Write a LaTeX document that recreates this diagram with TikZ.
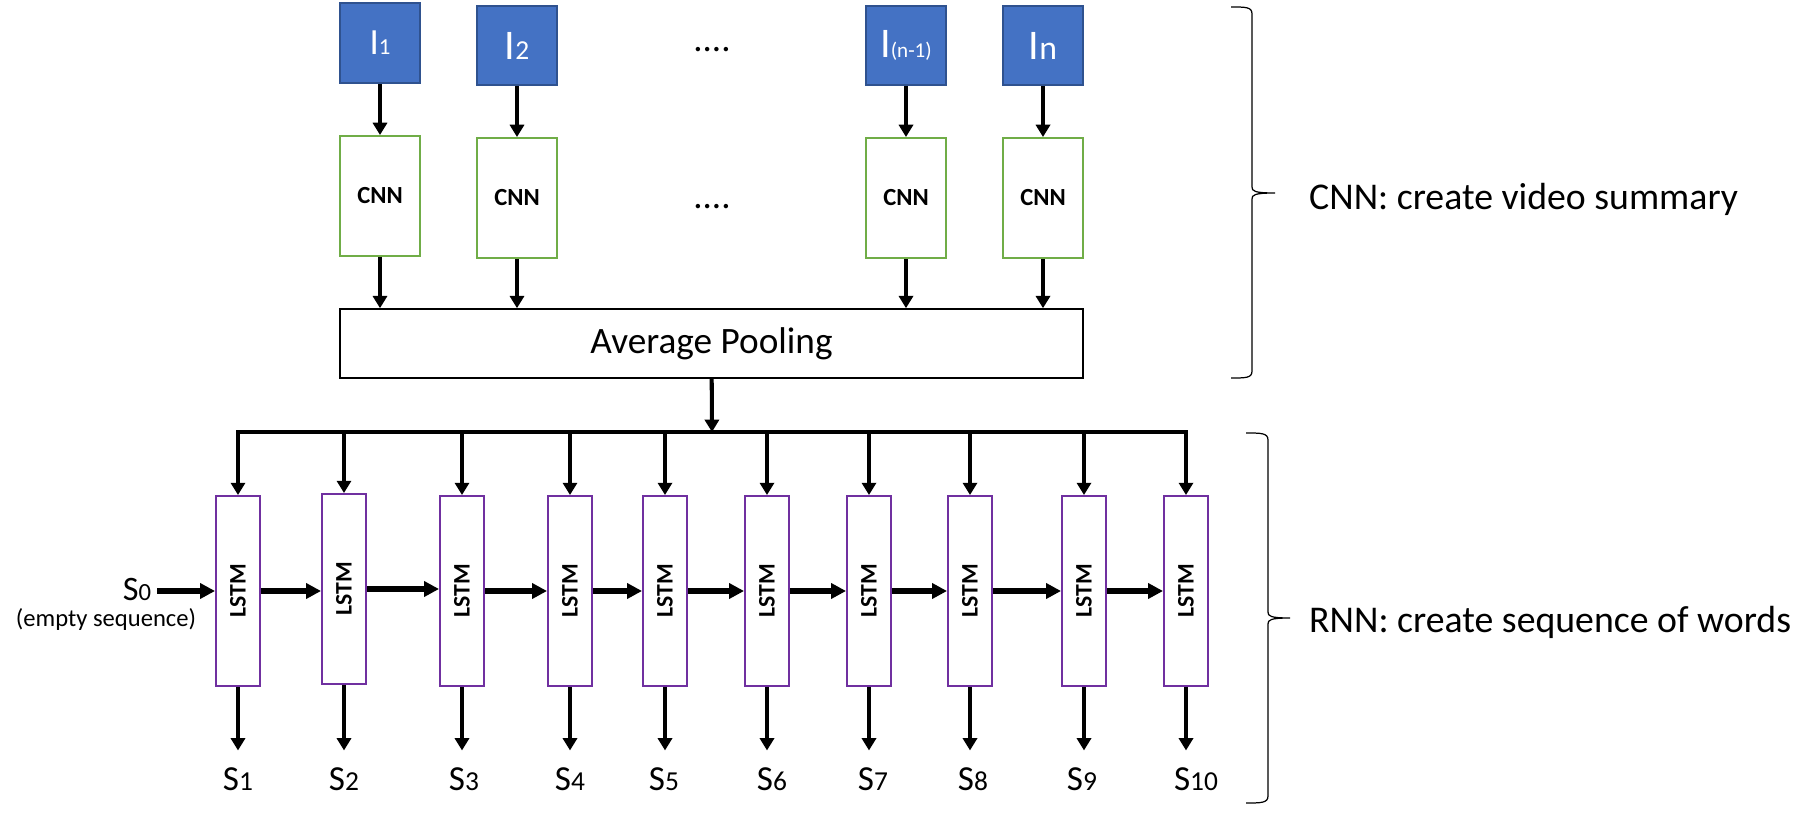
\documentclass[tikz,border=0pt]{standalone}
\usepackage{fontspec}
\setmainfont{Carlito}
\usepackage{graphicx}
\usetikzlibrary{arrows.meta}

\definecolor{frameblue}{HTML}{4472C4}
\definecolor{edgeblue}{HTML}{2F528F}
\definecolor{cnngreen}{HTML}{70AD47}
\definecolor{lstmpurple}{HTML}{7030A0}

\newcommand{\subidx}[2][0.78]{\scalebox{#1}{#2}}

\begin{document}
\begin{tikzpicture}[x=0.02cm, y=-0.02cm,
    frame/.style={draw=edgeblue, line width=1.1pt, fill=frameblue, text=white, minimum width=1.6cm, minimum height=1.58cm, inner sep=0pt, font=\fontsize{24}{28}\selectfont},
    cnn/.style={draw=cnngreen, line width=1.1pt, minimum width=1.6cm, minimum height=2.4cm, inner sep=0pt, font=\bfseries\fontsize{14}{16}\selectfont},
    lstm/.style={draw=lstmpurple, line width=1.1pt, minimum width=0.88cm, minimum height=3.8cm, inner sep=0pt, font=\bfseries\fontsize{13.5}{16}\selectfont},
    word/.style={anchor=base, font=\fontsize{20}{24}\selectfont},
    dots/.style={anchor=base, font=\fontsize{21}{25}\selectfont},
    note/.style={anchor=west, font=\fontsize{21.5}{25}\selectfont},
    arr/.style={-{Triangle[length=7pt, width=8pt]}, line width=2.3pt},
    harr/.style={-{Triangle[length=8.5pt, width=8.5pt]}, line width=3pt},
    bracket/.style={line width=0.7pt}]
\useasboundingbox (0,0) rectangle (1813,824);

% Frames of the video
\node at (380,43) [frame, minimum height=1.6cm, font=\fontsize{21}{25}\selectfont] (I1) {I\subidx[0.62]{1}};
\node at (517,45.5) [frame] (I2) {I\subidx[0.65]{2}};
\node at (906,45.5) [frame] (I3) {I\subidx[0.5]{(n-1)}};
\node at (1043,45.5) [frame] (I4) {I\subidx[0.8]{n}};
\node at (712,52) [dots] (dotsI) {....};

% One CNN per frame
\node at (380,196) [cnn] (C1) {CNN};
\node at (517,198) [cnn] (C2) {CNN};
\node at (906,198) [cnn] (C3) {CNN};
\node at (1043,198) [cnn] (C4) {CNN};
\node at (712,209) [dots] (dotsC) {....};

\draw[arr] (I1) -- (C1);
\draw[arr] (I2) -- (C2);
\draw[arr] (I3) -- (C3);
\draw[arr] (I4) -- (C4);

% Pooling
\node at (711.5,343.5) [draw, line width=0.9pt, minimum width=14.86cm, minimum height=1.38cm, font=\fontsize{21.2}{25}\selectfont] (pool) {Average Pooling};
\draw[arr] (C1) -- (C1 |- pool.north);
\draw[arr] (C2) -- (C2 |- pool.north);
\draw[arr] (C3) -- (C3 |- pool.north);
\draw[arr] (C4) -- (C4 |- pool.north);

% LSTM chain
\node at (238,591) [lstm] (L1) {\rotatebox{90}{LSTM}};
\node at (344,589) [lstm] (L2) {\rotatebox{90}{LSTM}};
\node at (462,591) [lstm] (L3) {\rotatebox{90}{LSTM}};
\node at (570,591) [lstm] (L4) {\rotatebox{90}{LSTM}};
\node at (665,591) [lstm] (L5) {\rotatebox{90}{LSTM}};
\node at (767,591) [lstm] (L6) {\rotatebox{90}{LSTM}};
\node at (869,591) [lstm] (L7) {\rotatebox{90}{LSTM}};
\node at (970,591) [lstm] (L8) {\rotatebox{90}{LSTM}};
\node at (1084,591) [lstm] (L9) {\rotatebox{90}{LSTM}};
\node at (1186,591) [lstm] (L10) {\rotatebox{90}{LSTM}};

% broadcast of the summary
\coordinate (bus) at (712,432);
\draw[arr] (pool) -- (bus);
\draw[line width=2.3pt, line cap=rect] (L1 |- bus) -- (L10 |- bus);
\draw[arr] (L1 |- bus) -- (L1);
\draw[arr] (L2 |- bus) -- (L2);
\draw[arr] (L3 |- bus) -- (L3);
\draw[arr] (L4 |- bus) -- (L4);
\draw[arr] (L5 |- bus) -- (L5);
\draw[arr] (L6 |- bus) -- (L6);
\draw[arr] (L7 |- bus) -- (L7);
\draw[arr] (L8 |- bus) -- (L8);
\draw[arr] (L9 |- bus) -- (L9);
\draw[arr] (L10 |- bus) -- (L10);

% input word
\node at (137,600) [word, font=\fontsize{19.5}{24}\selectfont] (S0) {S\subidx[0.72]{0}};
\node at (106,619) [font=\fontsize{14}{16}\selectfont] (empty) {(empty sequence)};
\draw[harr] (S0.east |- L1) -- (L1);

\draw[harr] (L1) -- (L1 -| L2.west);
\draw[harr] (L2) -- (L2 -| L3.west);
\draw[harr] (L3) -- (L3 -| L4.west);
\draw[harr] (L4) -- (L5);
\draw[harr] (L5) -- (L6);
\draw[harr] (L6) -- (L7);
\draw[harr] (L7) -- (L8);
\draw[harr] (L8) -- (L9);
\draw[harr] (L9) -- (L10);

% output words
\node at (238,790) [word] (S1) {S\subidx{1}};
\node at (344,790) [word] (S2) {S\subidx{2}};
\node at (464,790) [word] (S3) {S\subidx{3}};
\node at (570,790) [word] (S4) {S\subidx{4}};
\node at (664,790) [word] (S5) {S\subidx{5}};
\node at (772,790) [word] (S6) {S\subidx{6}};
\node at (873,790) [word] (S7) {S\subidx{7}};
\node at (973,790) [word] (S8) {S\subidx{8}};
\node at (1082,790) [word] (S9) {S\subidx{9}};
\node at (1196,790) [word] (S10) {S\subidx{10}};

\draw[arr, shorten >=6pt] (L1) -- (L1 |- S1.north);
\draw[arr, shorten >=6pt] (L2) -- (L2 |- S2.north);
\draw[arr, shorten >=6pt] (L3) -- (L3 |- S3.north);
\draw[arr, shorten >=6pt] (L4) -- (L4 |- S4.north);
\draw[arr, shorten >=6pt] (L5) -- (L5 |- S5.north);
\draw[arr, shorten >=6pt] (L6) -- (L6 |- S6.north);
\draw[arr, shorten >=6pt] (L7) -- (L7 |- S7.north);
\draw[arr, shorten >=6pt] (L8) -- (L8 |- S8.north);
\draw[arr, shorten >=6pt] (L9) -- (L9 |- S9.north);
\draw[arr, shorten >=6pt] (L10) -- (L10 |- S10.north);

% braces and their notes
\draw[bracket] (1231,7) .. controls (1246,7) and (1252,7) .. (1252,14) -- (1252,187)
    .. controls (1252,191) and (1254,193) .. (1275,193)
    .. controls (1254,193) and (1252,195) .. (1252,199) -- (1252,371)
    .. controls (1252,378) and (1246,378) .. (1231,378);
\node at (1303,199) [note] (cnnnote) {CNN: create video summary};
\draw[bracket] (1246,433) .. controls (1261,433) and (1268,433) .. (1268,440) -- (1268,612)
    .. controls (1268,616) and (1270,618) .. (1290,618)
    .. controls (1270,618) and (1268,620) .. (1268,624) -- (1268,796)
    .. controls (1268,803) and (1261,803) .. (1246,803);
\node at (1303,622) [note] (rnnnote) {RNN: create sequence of words};

\end{tikzpicture}
\end{document}
